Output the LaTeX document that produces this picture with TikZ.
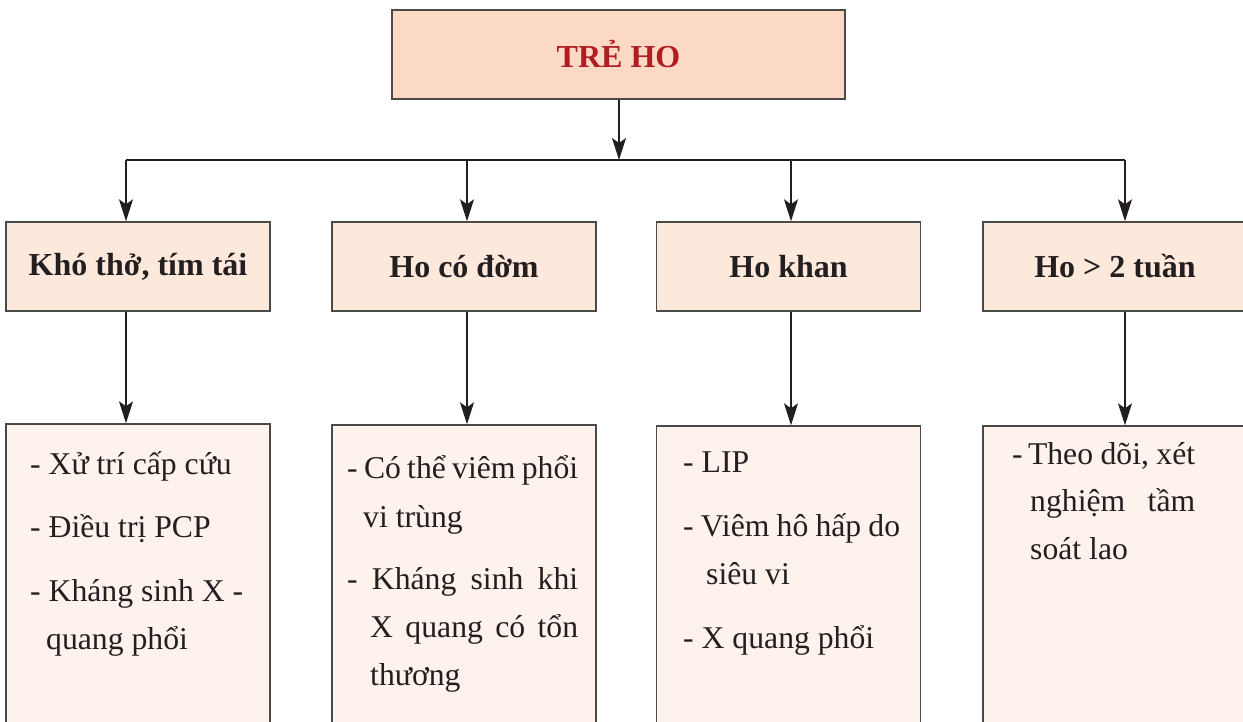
\documentclass[tikz,border=0pt]{standalone}
\usepackage{fontspec}
\setmainfont{Liberation Serif}
\usetikzlibrary{arrows.meta}
\definecolor{rootfill}{HTML}{FCD9C5}
\definecolor{midfill}{HTML}{FDE9DC}
\definecolor{leaffill}{HTML}{FEF3EC}
\definecolor{edge}{HTML}{4A4A4A}
\definecolor{ink}{HTML}{231F20}
\definecolor{titlered}{HTML}{B01C22}
\newcommand{\headfont}{\fontsize{32}{38}\selectfont\bfseries}
\newcommand{\bodyfont}{\fontsize{31.7}{38}\selectfont}
\begin{document}
\begin{tikzpicture}[x=1pt,y=-1pt,
  box/.style={draw=edge, line width=1.4pt, rectangle, inner sep=0pt},
  rootbox/.style={box, fill=rootfill, minimum width=453pt, minimum height=89pt,
    text=titlered, font=\headfont},
  midbox/.style={box, fill=midfill, minimum width=264pt, minimum height=89pt,
    text=ink, font=\headfont},
  leafbox/.style={box, fill=leaffill, minimum width=264pt, minimum height=320pt},
  txt/.style={anchor=base west, inner sep=0pt, text=ink, font=\bodyfont},
  conn/.style={draw=ink, line width=1.2pt},
  arr/.style={conn, -{Stealth[length=22pt,width=14pt,inset=5pt]}}]
\useasboundingbox (0,0) rectangle (1243,722);
\clip (0,0) rectangle (1243,722);

% root
\node[rootbox] (root) at (618.5,54.5) {TRẺ HO};

% second level
\node[midbox] (m1) at (138,266.5) {Khó thở, tím tái};
\node[midbox] (m2) at (464,266.5) {Ho có đờm};
\node[midbox] (m3) at (788.5,266.5) {Ho khan};
\node[midbox] (m4) at (1115,266.5) {Ho > 2 tuần};

% third level
\node[leafbox] (l1) at (138,584) {};
\node[leafbox] (l2) at (464,585) {};
\node[leafbox] (l3) at (788.5,586) {};
\node[leafbox] (l4) at (1115,586) {};

% branching
\coordinate (j) at (619,160);
\coordinate (j1) at (126,160);
\coordinate (j2) at (467,160);
\coordinate (j3) at (791,160);
\coordinate (j4) at (1125,160);
\draw[arr] (root.south -| j) -- (j);
\draw[conn] (j1) -- (j4);
\draw[arr] (j1) -- (j1 |- m1.north);
\draw[arr] (j2) -- (j2 |- m2.north);
\draw[arr] (j3) -- (j3 |- m3.north);
\draw[arr] (j4) -- (j4 |- m4.north);

\draw[arr] (j1 |- m1.south) -- (j1 |- l1.north);
\draw[arr] (j2 |- m2.south) -- (j2 |- l2.north);
\draw[arr] (j3 |- m3.south) -- (j3 |- l3.north);
\draw[arr] (j4 |- m4.south) -- (j4 |- l4.north);

% texts, first column
\node[txt] (a1) at (30,474) {- Xử trí cấp cứu};
\node[txt] (a2) at (30,537) {- Điều trị PCP};
\node[txt] (a3) at (30,601) {- Kháng sinh X -};
\node[txt] (a4) at (46,649) {quang phổi};

% second column
\node[txt] (b1) at (347,478) {\makebox[231pt][s]{- Có thể viêm phổi}};
\node[txt] (b2) at (363,527) {vi trùng};
\node[txt] (b3) at (347,589) {\makebox[231pt][s]{- Kháng sinh khi}};
\node[txt] (b4) at (370,637) {\makebox[208pt][s]{X quang có tổn}};
\node[txt] (b5) at (370,685) {thương};

% third column
\node[txt] (c1) at (683,472) {- LIP};
\node[txt] (c2) at (683,536) {\makebox[217pt][s]{- Viêm hô hấp do}};
\node[txt] (c3) at (706,584) {siêu vi};
\node[txt] (c4) at (683,648) {- X quang phổi};

% fourth column
\node[txt] (d1) at (1012,464) {\makebox[183pt][s]{-\,Theo dõi, xét}};
\node[txt] (d2) at (1030,511) {\makebox[165pt][s]{nghiệm tầm}};
\node[txt] (d3) at (1030,559) {soát lao};
\end{tikzpicture}
\end{document}
